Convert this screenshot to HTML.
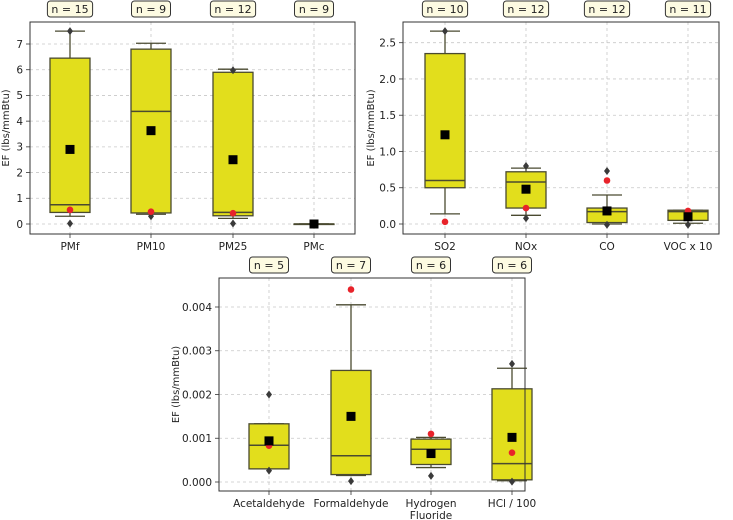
<!DOCTYPE html>
<html><head><meta charset="utf-8">
<style>
html,body{margin:0;padding:0;background:#fff;}
svg{display:block;font-family:"DejaVu Sans","Liberation Sans",sans-serif;}
</style></head>
<body>
<svg id="chart" width="733" height="520" viewBox="0 0 733 520" xmlns="http://www.w3.org/2000/svg"></svg>
<script>
// ---- Panel 1 data ----
const p1Categories = ["PMf","PM10","PM25","PMc"];
const p1Counts = [15,9,12,9];
const p1WhisLo = [0.3,0.38,0.22,0];
const p1Q1 = [0.45,0.43,0.32,0];
const p1Median = [0.75,4.38,0.45,0];
const p1Q3 = [6.45,6.8,5.9,0];
const p1WhisHi = [7.5,7.03,6.02,0];
const p1Fliers = [[0.02,7.5],[0.3],[0.02,5.98],[]];
const p1Mean = [2.9,3.63,2.5,0];
const p1Red = [0.55,0.48,0.42,0];
const p1Ticks = [0,1,2,3,4,5,6,7];
const p1TickLabels = ["0","1","2","3","4","5","6","7"];
// ---- Panel 2 data ----
const p2Categories = ["SO2","NOx","CO","VOC x 10"];
const p2Counts = [10,12,12,11];
const p2WhisLo = [0.14,0.12,0.0,0.01];
const p2Q1 = [0.5,0.22,0.02,0.05];
const p2Median = [0.6,0.58,0.17,0.17];
const p2Q3 = [2.35,0.72,0.22,0.19];
const p2WhisHi = [2.66,0.77,0.4,0.19];
const p2Fliers = [[2.66],[0.08,0.8],[0.73,-0.01],[-0.01]];
const p2Mean = [1.23,0.48,0.18,0.1];
const p2Red = [0.03,0.22,0.6,0.18];
const p2Ticks = [0,0.5,1.0,1.5,2.0,2.5];
const p2TickLabels = ["0.0","0.5","1.0","1.5","2.0","2.5"];
// ---- Panel 3 data ----
const p3Categories = [["Acetaldehyde"],["Formaldehyde"],["Hydrogen","Fluoride"],["HCl / 100"]];
const p3Counts = [5,7,6,6];
const p3WhisLo = [0.0003,0.00015,0.00033,0.00003];
const p3Q1 = [0.0003,0.00017,0.0004,0.00005];
const p3Median = [0.00084,0.0006,0.00075,0.00042];
const p3Q3 = [0.00133,0.00255,0.00098,0.00213];
const p3WhisHi = [0.00133,0.00405,0.00102,0.0026];
const p3Fliers = [[0.002,0.00026],[0.00002],[0.00014],[0.0027,0.00001]];
const p3Mean = [0.00094,0.0015,0.00065,0.00102];
const p3Red = [0.00083,0.0044,0.0011,0.00067];
const p3Ticks = [0,0.001,0.002,0.003,0.004];
const p3TickLabels = ["0.000","0.001","0.002","0.003","0.004"];

const NS="http://www.w3.org/2000/svg";
const svg=document.getElementById('chart');
function mk(tag,attrs,parent){const e=document.createElementNS(NS,tag);for(const k in attrs)e.setAttribute(k,attrs[k]);(parent||svg).appendChild(e);return e;}

function panel(cfg){
  const g=mk('g',{});
  
  
  const y=v=>cfg.y0px+(v-cfg.v0)/(cfg.v1-cfg.v0)*(cfg.y1px-cfg.y0px);
  const xs=cfg.xs;
  cfg.ticks.forEach((t,i)=>{
    const gl=mk('line',{x1:cfg.L,x2:cfg.R,y1:y(t),y2:y(t),stroke:'#c8c8c8','stroke-dasharray':'3,3','stroke-width':0.8},g);
    
    
    const tk=mk('line',{x1:cfg.L-4,x2:cfg.L,y1:y(t),y2:y(t),stroke:'#333','stroke-width':0.8},g);
    
    
    const tl=mk('text',{x:cfg.L-7,y:y(t)+3.8,'font-size':10.5,'text-anchor':'end',fill:'#222'},g);
    tl.textContent=cfg.tickLabels[i];
    
    
  });
  xs.forEach(x=>{
    const gl=mk('line',{x1:x,x2:x,y1:cfg.T,y2:cfg.B,stroke:'#c8c8c8','stroke-dasharray':'3,3','stroke-width':0.8},g);
    
    
  });
  const hw=20, cw=15, ec='#4a4a30';
  cfg.cats.forEach((c,i)=>{
    const x=xs[i];
    const bg=mk('g',{},g);
    
    
    mk('line',{x1:x,x2:x,y1:y(cfg.wlo[i]),y2:y(cfg.q1[i]),stroke:ec,'stroke-width':1.3},bg);
    mk('line',{x1:x,x2:x,y1:y(cfg.q3[i]),y2:y(cfg.whi[i]),stroke:ec,'stroke-width':1.3},bg);
    mk('line',{x1:x-cw,x2:x+cw,y1:y(cfg.wlo[i]),y2:y(cfg.wlo[i]),stroke:ec,'stroke-width':1.3},bg);
    mk('line',{x1:x-cw,x2:x+cw,y1:y(cfg.whi[i]),y2:y(cfg.whi[i]),stroke:ec,'stroke-width':1.3},bg);
    const h=Math.max(y(cfg.q1[i])-y(cfg.q3[i]),0.5);
    mk('rect',{x:x-hw,y:y(cfg.q3[i]),width:2*hw,height:h,fill:'#e2de1c',stroke:ec,'stroke-width':1.3},bg);
    mk('line',{x1:x-hw,x2:x+hw,y1:y(cfg.med[i]),y2:y(cfg.med[i]),stroke:ec,'stroke-width':1.5},bg);
    cfg.fl[i].forEach(f=>{
      const yy=y(f);
      const d=mk('path',{d:`M${x} ${yy-4}L${x+3} ${yy}L${x} ${yy+4}L${x-3} ${yy}Z`,fill:'#3a3a3a'},bg);
      
      
    });
    const r=mk('circle',{cx:x,cy:y(cfg.red[i]),r:3.3,fill:'#e8232a'},bg);
    
    
    const m=mk('rect',{x:x-4.5,y:y(cfg.mean[i])-4.5,width:9,height:9,fill:'#000'},bg);
    
    
    const lines=Array.isArray(c)?c:[c];
    lines.forEach((ln,k)=>{
      const t=mk('text',{x:x,y:cfg.B+16+k*12,'font-size':10.5,'text-anchor':'middle',fill:'#222'},g);
      t.textContent=ln;
      
      
    });
    mk('line',{x1:x,x2:x,y1:cfg.B,y2:cfg.B+4,stroke:'#333','stroke-width':0.8},g);
    const txt='n = '+cfg.n[i];
    const w=txt.length*6.2+8;
    const nb=mk('rect',{x:x-w/2,y:cfg.T-21,width:w,height:16,rx:3,fill:'#fdfbe2',stroke:'#333','stroke-width':1},g);
    
    
    const nt=mk('text',{x:x,y:cfg.T-9,'font-size':11,'text-anchor':'middle',fill:'#222'},g);
    nt.textContent=txt;
    
    
  });
  const fr=mk('rect',{x:cfg.L,y:cfg.T,width:cfg.R-cfg.L,height:cfg.B-cfg.T,fill:'none',stroke:'#333','stroke-width':1},g);
  
  
  const yl=mk('text',{x:0,y:0,'font-size':10,'text-anchor':'middle',fill:'#222',transform:`translate(${cfg.ylx},${(cfg.T+cfg.B)/2}) rotate(-90)`},g);
  yl.textContent='EF (lbs/mmBtu)';
  
  
}

panel({name:'panel-particulate',L:30,R:355,T:22,B:234,y0px:224,y1px:44,v0:0,v1:7,xs:[70,151,233,314],
 cats:p1Categories,n:p1Counts,wlo:p1WhisLo,q1:p1Q1,med:p1Median,q3:p1Q3,whi:p1WhisHi,fl:p1Fliers,mean:p1Mean,red:p1Red,ticks:p1Ticks,tickLabels:p1TickLabels,ylx:9});
panel({name:'panel-gases',L:403,R:719,T:22,B:234,y0px:224,y1px:42.7,v0:0,v1:2.5,xs:[445,526,607,688],
 cats:p2Categories,n:p2Counts,wlo:p2WhisLo,q1:p2Q1,med:p2Median,q3:p2Q3,whi:p2WhisHi,fl:p2Fliers,mean:p2Mean,red:p2Red,ticks:p2Ticks,tickLabels:p2TickLabels,ylx:374});
panel({name:'panel-air-toxics',L:219,R:525,T:278,B:491,y0px:482,y1px:307,v0:0,v1:0.004,xs:[269,351,431,512],
 cats:p3Categories,n:p3Counts,wlo:p3WhisLo,q1:p3Q1,med:p3Median,q3:p3Q3,whi:p3WhisHi,fl:p3Fliers,mean:p3Mean,red:p3Red,ticks:p3Ticks,tickLabels:p3TickLabels,ylx:179});
</script>
</body></html>
